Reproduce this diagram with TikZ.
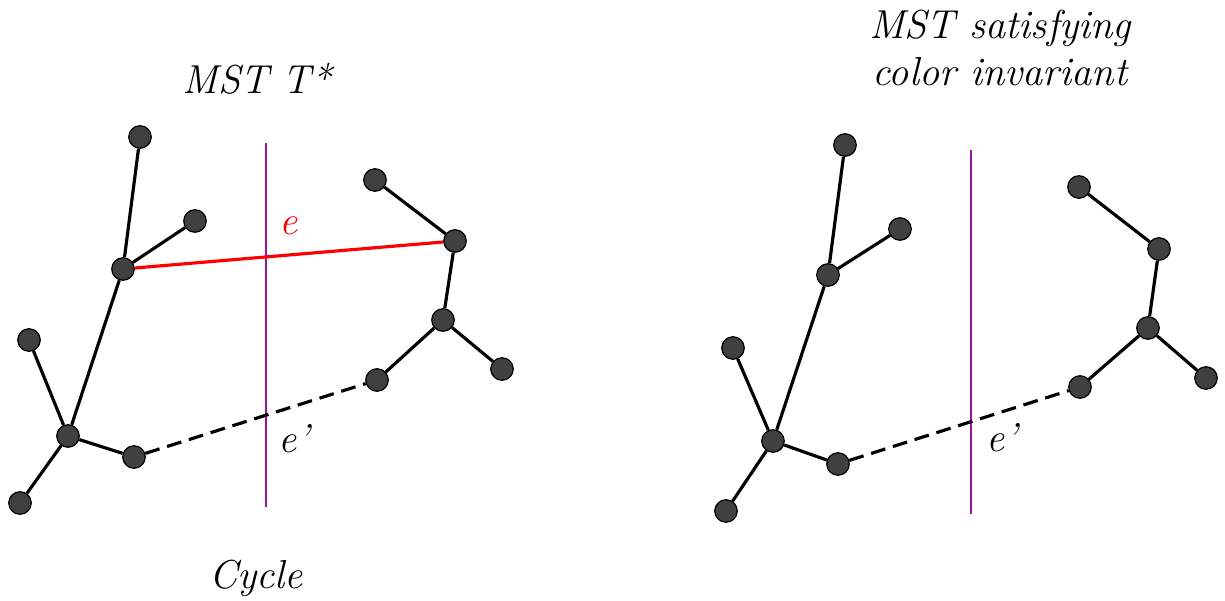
\documentclass[tikz,border=0pt]{standalone}
\usepackage{xcolor}

\definecolor{cutpurple}{RGB}{150,20,160}
\definecolor{vertexgray}{RGB}{64,64,64}

\tikzset{
  vertex/.style={circle, draw=black, line width=0.7pt, fill=vertexgray, minimum size=0.45cm, inner sep=0pt},
  treeedge/.style={line width=1.8pt},
  swapedge/.style={line width=1.8pt, dash pattern=on 8.5pt off 4.5pt},
  cut/.style={cutpurple, line width=0.8pt},
  caption/.style={font=\fontsize{23}{27}\selectfont\itshape, align=center}
}

\begin{document}
\begin{tikzpicture}[x=0.02cm, y=-0.02cm]
    \useasboundingbox (0,0) rectangle (1225,601);

    % left picture: the cut and the cycle through e
    \draw[cut] (266,143) -- (266,507);
    \node[vertex] (a1) at (140,137) {};
    \node[vertex] (a2) at (195,221) {};
    \node[vertex] (a3) at (123,269) {};
    \node[vertex] (a4) at (29,340) {};
    \node[vertex] (a5) at (68,436) {};
    \node[vertex] (a6) at (134,457) {};
    \node[vertex] (a7) at (20,503) {};
    \node[vertex] (b1) at (375,180) {};
    \node[vertex] (b2) at (455,241) {};
    \node[vertex] (b3) at (443,320) {};
    \node[vertex] (b4) at (502,369) {};
    \node[vertex] (b5) at (377,380) {};
    \draw[treeedge] (a1) -- (a3);
    \draw[treeedge] (a2) -- (a3);
    \draw[treeedge] (a3) -- (a5);
    \draw[treeedge] (a4) -- (a5);
    \draw[treeedge] (a5) -- (a6);
    \draw[treeedge] (a5) -- (a7);
    \draw[treeedge] (b1) -- (b2);
    \draw[treeedge] (b2) -- (b3);
    \draw[treeedge] (b3) -- (b4);
    \draw[treeedge] (b3) -- (b5);
    \draw[treeedge, red] (a3) -- (b2);
    \draw[swapedge] (a6) -- (b5);
    \node[caption, red] (le) at (289,226) {e};
    \node[caption] (lep) at (294,439) {e'};
    \node[caption] (ltitle) at (257,79) {MST T*};
    \node[caption] (lcycle) at (256,578) {Cycle};

    % right picture: after the swap
    \draw[cut] (971,150) -- (971,514);
    \node[vertex] (c1) at (845,145) {};
    \node[vertex] (c2) at (900,229) {};
    \node[vertex] (c3) at (828,275) {};
    \node[vertex] (c4) at (733,348) {};
    \node[vertex] (c5) at (773,441) {};
    \node[vertex] (c6) at (838,464) {};
    \node[vertex] (c7) at (726,511) {};
    \node[vertex] (d1) at (1079,187) {};
    \node[vertex] (d2) at (1159,249) {};
    \node[vertex] (d3) at (1148,328) {};
    \node[vertex] (d4) at (1206,378) {};
    \node[vertex] (d5) at (1080,387) {};
    \draw[treeedge] (c1) -- (c3);
    \draw[treeedge] (c2) -- (c3);
    \draw[treeedge] (c3) -- (c5);
    \draw[treeedge] (c4) -- (c5);
    \draw[treeedge] (c5) -- (c6);
    \draw[treeedge] (c5) -- (c7);
    \draw[treeedge] (d1) -- (d2);
    \draw[treeedge] (d2) -- (d3);
    \draw[treeedge] (d3) -- (d4);
    \draw[treeedge] (d3) -- (d5);
    \draw[swapedge] (c6) -- (d5);
    \node[caption] (rep) at (1002,438) {e'};
    \node[caption] (rtitle) at (1000,48) {MST satisfying\\color invariant};
\end{tikzpicture}
\end{document}
